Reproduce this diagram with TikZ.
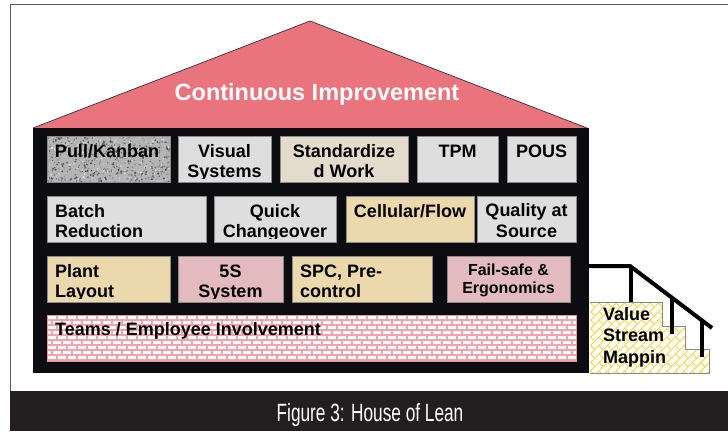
\documentclass[tikz,border=0pt]{standalone}
\usepackage{fontspec}
\setmainfont{Liberation Sans}
\definecolor{roofc}{HTML}{E9747E}
\definecolor{houseblk}{HTML}{0D0C10}
\definecolor{gbox}{HTML}{DEDEDE}
\definecolor{tanbox}{HTML}{EBD8AC}
\definecolor{beigebox}{HTML}{E3DBCC}
\definecolor{pinkbox}{HTML}{E3BBBF}
\definecolor{brickc}{HTML}{F2A2A9}
\definecolor{vsmy}{HTML}{F4D64A}
\definecolor{capbg}{HTML}{231F20}
\definecolor{edgec}{HTML}{8A8A8A}
\definecolor{framec}{HTML}{5A5A5A}
\definecolor{speckbase}{HTML}{B4B4B4}
\begin{document}
\begin{tikzpicture}[x=1pt,y=-1pt,
  boxn/.style={draw=edgec,line width=0.6pt,inner sep=0pt,anchor=north west,rectangle},
  lbl/.style={font=\fontsize{18}{20}\selectfont\bfseries,inner sep=0pt,align=center,anchor=base},
  lbll/.style={font=\fontsize{18}{20}\selectfont\bfseries,inner sep=0pt,align=left,anchor=base west},
  rail/.style={line width=4pt,black},
  post/.style={line width=3.5pt,black}]
\useasboundingbox (0,0) rectangle (728,431);
\fill[white] (0,0) rectangle (728,431);
% frame and caption bar
\draw[framec,line width=1pt] (10.5,391) -- (10.5,4.5) -- (729,4.5);
\fill[capbg] (10,391) rectangle (728,431);
\node[font=\fontsize{25}{28}\selectfont,text=white,inner sep=0pt,anchor=base] (cap) at (370,421) {\scalebox{0.69}[1]{Figure 3: House of Lean}};
% roof
\fill[roofc] (33,128) -- (310,21) -- (587,128) -- cycle;
\draw[black!80,line width=0.7pt] (33,128) -- (310,21) -- (587,128);
\node[font=\fontsize{23.5}{26}\selectfont\bfseries,text=white,inner sep=0pt,anchor=base] (ci) at (317,100) {Continuous Improvement};
% house body
\fill[houseblk] (33,128) rectangle (589,373);
% ---- row 1
\node[boxn,fill=speckbase,minimum width=123pt,minimum height=46pt] (pk) at (47,136) {};
\begin{scope}
\clip (47,136) rectangle (170,182);
\pgfmathsetseed{11}
\foreach \i in {1,...,900}{
  \pgfmathsetmacro{\px}{47+123*rnd}
  \pgfmathsetmacro{\py}{136+46*rnd}
  \pgfmathsetmacro{\gv}{10+65*rnd}
  \pgfmathsetmacro{\rr}{0.5+0.7*rnd}
  \fill[black!\gv] (\px,\py) circle (\rr);
}
\end{scope}
\draw[edgec,line width=0.6pt] (47,136) rectangle (170,182);
\node[lbl] (pkt) at (107,157) {Pull/Kanban};
\node[boxn,fill=gbox,minimum width=93pt,minimum height=46pt] (vs) at (178,136) {};
\begin{scope}\clip (178,136) rectangle (271,178.3);
\node[lbl] (vst) at (224.5,177) {Visual\\Systems};
\end{scope}
\node[boxn,fill=beigebox,minimum width=128pt,minimum height=46pt] (sw) at (280,136) {};
\node[lbl] (swt) at (344,177) {Standardize\\d Work};
\node[boxn,fill=gbox,minimum width=81pt,minimum height=46pt] (tpm) at (417,136) {};
\node[lbl] (tpmt) at (457.5,157) {TPM};
\node[boxn,fill=gbox,minimum width=69pt,minimum height=46pt] (pous) at (507,136) {};
\node[lbl] (poust) at (541.5,157) {POUS};
% ---- row 2
\node[boxn,fill=gbox,minimum width=159pt,minimum height=46pt] (br) at (47,196) {};
\node[lbll] (brt) at (55,237) {Batch\\Reduction};
\node[boxn,fill=gbox,minimum width=122pt,minimum height=46pt] (qc) at (214,196) {};
\begin{scope}\clip (214,196) rectangle (336,238.3);
\node[lbl] (qct) at (275,237) {Quick\\Changeover};
\end{scope}
\node[boxn,fill=tanbox,minimum width=128pt,minimum height=46pt] (cf) at (346,196) {};
\node[lbl] (cft) at (410,217) {Cellular/Flow};
\node[boxn,fill=gbox,minimum width=99pt,minimum height=46pt] (qs) at (477,196) {};
\node[lbl,font=\fontsize{18}{21}\selectfont\bfseries] (qst) at (526.5,237) {Quality at\\Source};
% ---- row 3
\node[boxn,fill=tanbox,minimum width=123pt,minimum height=46pt] (pl) at (47,256) {};
\begin{scope}\clip (47,256) rectangle (170,298.3);
\node[lbll] (plt) at (55,297) {Plant\\Layout};
\end{scope}
\node[boxn,fill=pinkbox,minimum width=105pt,minimum height=46pt] (ss) at (178,256) {};
\begin{scope}\clip (178,256) rectangle (283,298.3);
\node[lbl] (sst) at (230.5,297) {5S\\System};
\end{scope}
\node[boxn,fill=tanbox,minimum width=140pt,minimum height=46pt] (spc) at (292,256) {};
\node[lbll] (spct) at (300,297) {SPC, Pre-\\control};
\node[boxn,fill=pinkbox,minimum width=123pt,minimum height=46pt] (fs) at (447,256) {};
\node[lbl,font=\fontsize{16}{18}\selectfont\bfseries] (fst) at (508.5,293) {Fail-safe \&\\Ergonomics};
% ---- row 4 (bricks)
\node[boxn,fill=white,minimum width=529pt,minimum height=46pt] (tm) at (47,315) {};
\begin{scope}
\clip (47,315) rectangle (576,361);
\foreach \r in {0,...,9}{
  \draw[brickc,line width=1.1pt] (47,315+5*\r) -- (576,315+5*\r);
  \pgfmathsetmacro{\off}{mod(\r,2)*5}
  \foreach \k in {0,...,53}{
    \draw[brickc,line width=1.1pt] (47+\off+10*\k,315+5*\r) -- ++(0,5);
  }
}
\end{scope}
\draw[brickc!80!gray,line width=0.6pt] (47,315) rectangle (576,361);
\node[lbll] (tmt) at (55,335) {Teams / Employee Involvement};
% ---- value stream mapping steps
\begin{scope}
\clip (590,302) -- (662,302) -- (662,326) -- (685,326) -- (685,349) -- (709,349) -- (709,373) -- (590,373) -- cycle;
\begin{scope}[shift={(650,337)},x={(0.7071pt,0.7071pt)},y={(0.7071pt,-0.7071pt)}]
\foreach \j in {-15,...,15}{
  \draw[vsmy,line width=0.9pt] (-110,6*\j) -- (110,6*\j);
  \pgfmathsetmacro{\offb}{mod(\j+20,2)*6}
  \foreach \k in {-10,...,10}{
    \draw[vsmy,line width=0.9pt] (12*\k+\offb,6*\j) -- ++(0,6);
  }
}
\end{scope}
\end{scope}
\draw[edgec,line width=0.8pt] (590,302) -- (662,302) -- (662,326) -- (685,326) -- (685,349) -- (709,349) -- (709,373) -- (590,373);
\node[font=\fontsize{18}{21.5}\selectfont\bfseries,inner sep=0pt,align=left,anchor=base west] (vsm) at (603,363) {Value\\Stream\\Mappin};
% railing
\coordinate (r0) at (589,266);
\coordinate (r1) at (630,266);
\coordinate (r2) at (712,328);
\draw[rail] (r0) -- (r1) -- (r2);
\draw[post] (631,266) -- (631,302);
\draw[post] (672,297) -- (672,334);
\draw[post] (702,319) -- (702,357);
\end{tikzpicture}
\end{document}
